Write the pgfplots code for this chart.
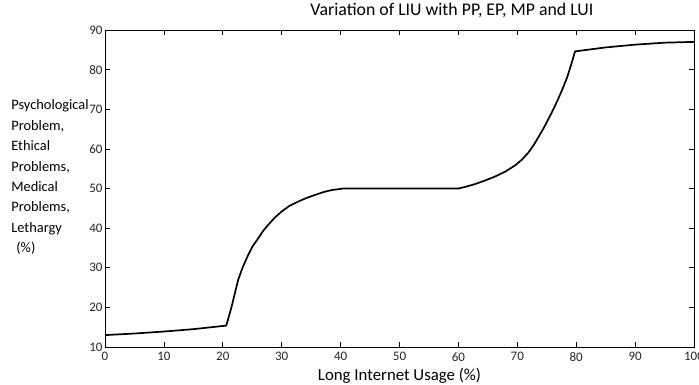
\documentclass[border=0pt]{standalone}
\usepackage{pgfplots}
\pgfplotsset{compat=1.18}
\usepackage{fontspec}
\setmainfont{Carlito}
\begin{document}
\begin{tikzpicture}
\begin{axis}[
  name=ax,
  scale only axis,
  width=589pt, height=317pt,
  xmin=0, xmax=100, ymin=10, ymax=90,
  xtick={0,10,...,100}, ytick={10,20,...,90},
  tick align=inside,
  major tick length=5pt,
  tick style={black, line width=0.6pt},
  axis line style={black, line width=0.8pt},
  /pgf/number format/assume math mode=true,
  ticklabel style={font=\fontsize{13}{15}\selectfont, text=black!85},
  xticklabel style={yshift=-2pt},
  yticklabel style={xshift=1pt},
  title={Variation of LIU with PP, EP, MP and LUI},
  title style={font=\fontsize{17.8}{20}\selectfont, at={(axis description cs:0.589,1)}, anchor=south, yshift=3pt},
  xlabel={Long Internet Usage (\%)},
  xlabel style={font=\fontsize{16.8}{19}\selectfont, at={(axis description cs:0.5,0)}, anchor=north, yshift=-18pt},
  ylabel={Psychological\\Problem,\\Ethical\\Problems,\\Medical\\Problems,\\Lethargy\\\hspace*{5pt}(\%)},
  ylabel style={font=\fontsize{14.4}{20.4}\selectfont, rotate=-90, align=left, at={(axis description cs:-0.165,0.535)}, anchor=west},
]
\addplot[black, line width=1.7pt, line join=round] coordinates {
(0,13.0) (5,13.4) (10,13.9) (15,14.5) (20.6,15.4)
(21.5,20.2) (22.6,26.9) (23.4,30.2) (24.3,33.2) (25.1,35.5) (26.0,37.4) (26.8,39.2) (27.7,40.8) (28.8,42.6) (30.0,44.2)
(31.3,45.6) (32.8,46.7) (34.2,47.6) (35.7,48.4) (37.1,49.1) (38.5,49.6) (40.5,50.0) (50,50.0) (60,50.0)
(61.4,50.5) (62.8,51.1) (64.5,52.0) (66.2,53.0) (68.0,54.3) (69.6,55.8) (70.8,57.3) (71.9,59.1) (72.8,61.0) (73.6,63.0) (74.5,65.3) (75.3,67.6)
(76.2,70.2) (77.0,72.8) (77.7,75.2) (78.4,77.8) (79.1,81.0) (79.8,84.6) (85,85.6) (90,86.3) (95,86.8) (100,87.0)
};
\end{axis}
\pgfresetboundingbox
\path (ax.south west) ++(-105pt,-38pt) coordinate (bl);
\path (ax.north east) ++(5pt,30pt) coordinate (tr);
\useasboundingbox (bl) rectangle (tr);
\end{tikzpicture}
\end{document}
